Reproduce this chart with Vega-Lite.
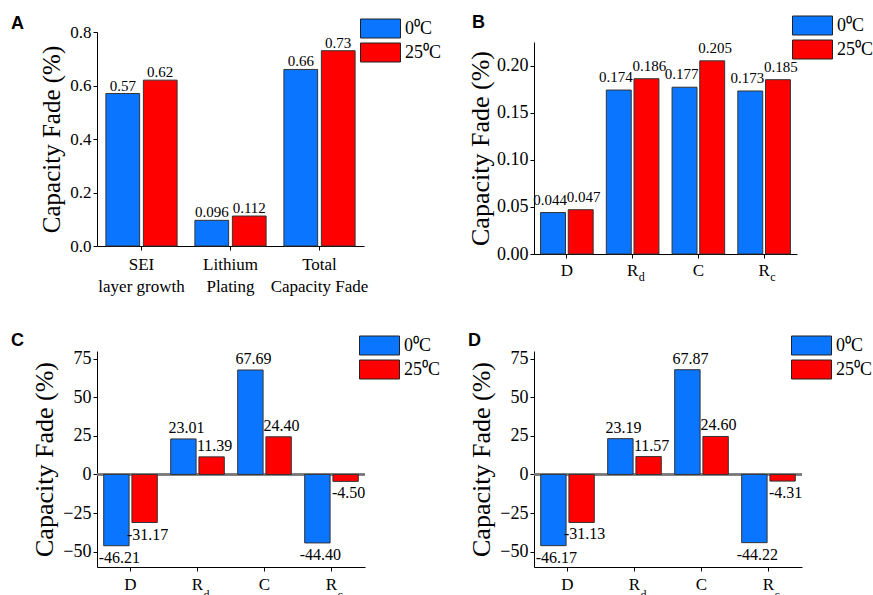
{
  "$schema": "https://vega.github.io/schema/vega-lite/v6.json",
  "padding": {"left": 11, "top": 14, "right": 0, "bottom": 0},
  "background": "white",
  "datasets": {
    "a": [
      {"cat": "SEI layer growth", "temp": "0⁰C", "v": 0.57, "label": "0.57"},
      {"cat": "SEI layer growth", "temp": "25⁰C", "v": 0.62, "label": "0.62"},
      {"cat": "Lithium Plating", "temp": "0⁰C", "v": 0.096, "label": "0.096"},
      {"cat": "Lithium Plating", "temp": "25⁰C", "v": 0.112, "label": "0.112"},
      {"cat": "Total Capacity Fade", "temp": "0⁰C", "v": 0.66, "label": "0.66"},
      {"cat": "Total Capacity Fade", "temp": "25⁰C", "v": 0.73, "label": "0.73"}
    ],
    "b": [
      {"cat": "D", "temp": "0⁰C", "v": 0.044, "label": "0.044"},
      {"cat": "D", "temp": "25⁰C", "v": 0.047, "label": "0.047"},
      {"cat": "Rd", "sub": "d", "temp": "0⁰C", "v": 0.174, "label": "0.174"},
      {"cat": "Rd", "sub": "d", "temp": "25⁰C", "v": 0.186, "label": "0.186"},
      {"cat": "C", "temp": "0⁰C", "v": 0.177, "label": "0.177"},
      {"cat": "C", "temp": "25⁰C", "v": 0.205, "label": "0.205"},
      {"cat": "Rc", "sub": "c", "temp": "0⁰C", "v": 0.173, "label": "0.173"},
      {"cat": "Rc", "sub": "c", "temp": "25⁰C", "v": 0.185, "label": "0.185"}
    ],
    "c": [
      {"cat": "D", "temp": "0⁰C", "v": -46.21, "label": "-46.21"},
      {"cat": "D", "temp": "25⁰C", "v": -31.17, "label": "-31.17"},
      {"cat": "Rd", "sub": "d", "temp": "0⁰C", "v": 23.01, "label": "23.01"},
      {"cat": "Rd", "sub": "d", "temp": "25⁰C", "v": 11.39, "label": "11.39"},
      {"cat": "C", "temp": "0⁰C", "v": 67.69, "label": "67.69"},
      {"cat": "C", "temp": "25⁰C", "v": 24.40, "label": "24.40"},
      {"cat": "Rc", "sub": "c", "temp": "0⁰C", "v": -44.40, "label": "-44.40"},
      {"cat": "Rc", "sub": "c", "temp": "25⁰C", "v": -4.50, "label": "-4.50"}
    ],
    "d": [
      {"cat": "D", "temp": "0⁰C", "v": -46.17, "label": "-46.17"},
      {"cat": "D", "temp": "25⁰C", "v": -31.13, "label": "-31.13"},
      {"cat": "Rd", "sub": "d", "temp": "0⁰C", "v": 23.19, "label": "23.19"},
      {"cat": "Rd", "sub": "d", "temp": "25⁰C", "v": 11.57, "label": "11.57"},
      {"cat": "C", "temp": "0⁰C", "v": 67.87, "label": "67.87"},
      {"cat": "C", "temp": "25⁰C", "v": 24.60, "label": "24.60"},
      {"cat": "Rc", "sub": "c", "temp": "0⁰C", "v": -44.22, "label": "-44.22"},
      {"cat": "Rc", "sub": "c", "temp": "25⁰C", "v": -4.31, "label": "-4.31"}
    ]
  },
  "columns": 2,
  "bounds": "flush",
  "spacing": {"row": 97, "column": 169},
  "concat": [
    {
      "width": 267,
      "height": 214,
      "title": {"text": "A", "anchor": "start", "frame": "group", "dx": -86, "offset": -15},
      "data": {"name": "a"},
      "encoding": {
        "x": {"field": "cat", "type": "nominal", "sort": null,
          "scale": {"type": "band", "paddingInner": 0.2, "paddingOuter": 0.1},
          "axis": {"title": null, "labelAngle": 0, "labelFontSize": 17, "labelLineHeight": 22, "labelPadding": 6,
            "labelExpr": "datum.value == 'SEI layer growth' ? ['SEI', 'layer growth'] : datum.value == 'Lithium Plating' ? ['Lithium', 'Plating'] : ['Total', 'Capacity Fade']"}},
        "xOffset": {"field": "temp", "type": "nominal", "sort": null, "scale": {"paddingInner": 0.1, "paddingOuter": 0}},
        "y": {"field": "v", "type": "quantitative", "scale": {"domain": [0, 0.8], "nice": false},
          "axis": {"title": "Capacity Fade (%)", "values": [0, 0.2, 0.4, 0.6, 0.8], "format": ".1f", "labelFontSize": 17, "titleFontSize": 25, "titlePadding": 5}}
      },
      "layer": [
        {"mark": {"type": "bar", "stroke": "#333333", "strokeWidth": 1},
          "encoding": {"color": {"field": "temp", "type": "nominal", "sort": null,
            "scale": {"domain": ["0⁰C", "25⁰C"], "range": ["#0A75FF", "#FF0000"]},
            "legend": {"orient": "none", "legendX": 273, "legendY": -14}}}},
        {"mark": {"type": "text", "baseline": "alphabetic", "dy": -3, "fontSize": 15},
          "encoding": {"text": {"field": "label"}}}
      ]
    },
    {
      "width": 263,
      "height": 222,
      "title": {"text": "B", "anchor": "start", "frame": "group", "dx": -62, "offset": -17},
      "data": {"name": "b"},
      "layer": [
        {"mark": {"type": "bar", "stroke": "#333333", "strokeWidth": 1},
          "encoding": {
            "x": {"field": "cat", "type": "nominal", "sort": null,
              "scale": {"type": "band", "domain": ["D", "Rd", "C", "Rc"], "paddingInner": 0.2, "paddingOuter": 0.1},
              "axis": {"title": null, "labelAngle": 0, "labelFontSize": 17, "labelPadding": 4,
                "labelExpr": "datum.value == 'Rd' || datum.value == 'Rc' ? 'R' : datum.value"}},
            "xOffset": {"field": "temp", "type": "nominal", "sort": null, "scale": {"paddingInner": 0.1, "paddingOuter": 0}},
            "y": {"field": "v", "type": "quantitative", "scale": {"domain": [0, 0.225], "nice": false, "range": [222, 10]},
              "axis": {"title": "Capacity Fade (%)", "values": [0, 0.05, 0.1, 0.15, 0.2], "format": ".2f", "labelFontSize": 18, "titleFontSize": 26, "titlePadding": 3}},
            "color": {"field": "temp", "type": "nominal", "sort": null,
              "scale": {"domain": ["0⁰C", "25⁰C"], "range": ["#0A75FF", "#FF0000"]},
              "legend": {"orient": "none", "legendX": 268, "legendY": -17}}}},
        {"transform": [{"filter": "datum.temp == '0⁰C'"}],
          "mark": {"type": "text", "baseline": "alphabetic", "dy": -8, "dx": -3, "fontSize": 15},
          "encoding": {
            "x": {"field": "cat", "type": "nominal", "sort": null, "scale": {"type": "band", "domain": ["D", "Rd", "C", "Rc"], "paddingInner": 0.2, "paddingOuter": 0.1}, "axis": {"title": null}},
            "xOffset": {"field": "temp", "type": "nominal", "sort": null, "scale": {"paddingInner": 0.1, "paddingOuter": 0}},
            "y": {"field": "v", "type": "quantitative", "axis": {"title": "Capacity Fade (%)"}},
            "text": {"field": "label"}}},
        {"transform": [{"filter": "datum.temp == '25⁰C'"}],
          "mark": {"type": "text", "baseline": "alphabetic", "dy": -8, "dx": 3, "fontSize": 15},
          "encoding": {
            "x": {"field": "cat", "type": "nominal", "sort": null, "scale": {"type": "band", "domain": ["D", "Rd", "C", "Rc"], "paddingInner": 0.2, "paddingOuter": 0.1}, "axis": {"title": null}},
            "xOffset": {"field": "temp", "type": "nominal", "sort": null, "scale": {"paddingInner": 0.1, "paddingOuter": 0}},
            "y": {"field": "v", "type": "quantitative", "axis": {"title": "Capacity Fade (%)"}},
            "text": {"field": "label"}}},
        {"transform": [{"filter": "datum.temp == '0⁰C' && datum.sub"}],
          "mark": {"type": "text", "align": "left", "baseline": "alphabetic", "dx": 6, "dy": 27, "fontSize": 12},
          "encoding": {
            "x": {"field": "cat", "type": "nominal", "sort": null, "scale": {"type": "band", "domain": ["D", "Rd", "C", "Rc"], "paddingInner": 0.2, "paddingOuter": 0.1}, "axis": {"title": null}},
            "y": {"datum": 0, "type": "quantitative"},
            "text": {"field": "sub"}}}
      ]
    },
    {
      "width": 268,
      "height": 216,
      "title": {"text": "C", "anchor": "start", "frame": "group", "dx": -86, "offset": -15},
      "data": {"name": "c"},
      "layer": [
        {"mark": {"type": "rule", "color": "#777777", "strokeWidth": 1.5}, "encoding": {"y": {"datum": 0, "type": "quantitative"}}},
        {"mark": {"type": "bar", "stroke": "#333333", "strokeWidth": 1},
          "encoding": {
            "x": {"field": "cat", "type": "nominal", "sort": null,
              "scale": {"type": "band", "domain": ["D", "Rd", "C", "Rc"], "paddingInner": 0.2, "paddingOuter": 0.1},
              "axis": {"title": null, "labelAngle": 0, "labelFontSize": 17, "labelPadding": 5,
                "labelExpr": "datum.value == 'Rd' || datum.value == 'Rc' ? 'R' : datum.value"}},
            "xOffset": {"field": "temp", "type": "nominal", "sort": null, "scale": {"paddingInner": 0.1, "paddingOuter": 0}},
            "y": {"field": "v", "type": "quantitative", "scale": {"domain": [-60, 80], "nice": false},
              "axis": {"title": "Capacity Fade (%)", "values": [-50, -25, 0, 25, 50, 75], "format": "d", "labelFontSize": 18, "titleFontSize": 26, "titlePadding": 5}},
            "color": {"field": "temp", "type": "nominal", "sort": null,
              "scale": {"domain": ["0⁰C", "25⁰C"], "range": ["#0A75FF", "#FF0000"]},
              "legend": {"orient": "none", "legendX": 272, "legendY": -16}}}},
        {"transform": [{"filter": "datum.v >= 0"}],
          "mark": {"type": "text", "baseline": "alphabetic", "dy": -6, "dx": 3, "fontSize": 16},
          "encoding": {
            "x": {"field": "cat", "type": "nominal", "sort": null, "scale": {"type": "band", "domain": ["D", "Rd", "C", "Rc"], "paddingInner": 0.2, "paddingOuter": 0.1}, "axis": {"title": null}},
            "xOffset": {"field": "temp", "type": "nominal", "sort": null, "scale": {"paddingInner": 0.1, "paddingOuter": 0}},
            "y": {"field": "v", "type": "quantitative", "axis": {"title": "Capacity Fade (%)"}},
            "text": {"field": "label"}}},
        {"transform": [{"filter": "datum.v < 0"}],
          "mark": {"type": "text", "baseline": "top", "dy": 4, "dx": 3, "fontSize": 16},
          "encoding": {
            "x": {"field": "cat", "type": "nominal", "sort": null, "scale": {"type": "band", "domain": ["D", "Rd", "C", "Rc"], "paddingInner": 0.2, "paddingOuter": 0.1}, "axis": {"title": null}},
            "xOffset": {"field": "temp", "type": "nominal", "sort": null, "scale": {"paddingInner": 0.1, "paddingOuter": 0}},
            "y": {"field": "v", "type": "quantitative", "axis": {"title": "Capacity Fade (%)"}},
            "text": {"field": "label"}}},
        {"transform": [{"filter": "datum.temp == '0⁰C' && datum.sub"}],
          "mark": {"type": "text", "align": "left", "baseline": "alphabetic", "dx": 6, "dy": 32, "fontSize": 12},
          "encoding": {
            "x": {"field": "cat", "type": "nominal", "sort": null, "scale": {"type": "band", "domain": ["D", "Rd", "C", "Rc"], "paddingInner": 0.2, "paddingOuter": 0.1}, "axis": {"title": null}},
            "y": {"datum": -60, "type": "quantitative"},
            "text": {"field": "sub"}}}
      ]
    },
    {
      "width": 268,
      "height": 216,
      "title": {"text": "D", "anchor": "start", "frame": "group", "dx": -66, "offset": -15},
      "data": {"name": "d"},
      "layer": [
        {"mark": {"type": "rule", "color": "#777777", "strokeWidth": 1.5}, "encoding": {"y": {"datum": 0, "type": "quantitative"}}},
        {"mark": {"type": "bar", "stroke": "#333333", "strokeWidth": 1},
          "encoding": {
            "x": {"field": "cat", "type": "nominal", "sort": null,
              "scale": {"type": "band", "domain": ["D", "Rd", "C", "Rc"], "paddingInner": 0.2, "paddingOuter": 0.1},
              "axis": {"title": null, "labelAngle": 0, "labelFontSize": 17, "labelPadding": 5,
                "labelExpr": "datum.value == 'Rd' || datum.value == 'Rc' ? 'R' : datum.value"}},
            "xOffset": {"field": "temp", "type": "nominal", "sort": null, "scale": {"paddingInner": 0.1, "paddingOuter": 0}},
            "y": {"field": "v", "type": "quantitative", "scale": {"domain": [-60, 80], "nice": false},
              "axis": {"title": "Capacity Fade (%)", "values": [-50, -25, 0, 25, 50, 75], "format": "d", "labelFontSize": 18, "titleFontSize": 26, "titlePadding": 5}},
            "color": {"field": "temp", "type": "nominal", "sort": null,
              "scale": {"domain": ["0⁰C", "25⁰C"], "range": ["#0A75FF", "#FF0000"]},
              "legend": {"orient": "none", "legendX": 267, "legendY": -16}}}},
        {"transform": [{"filter": "datum.v >= 0"}],
          "mark": {"type": "text", "baseline": "alphabetic", "dy": -6, "dx": 3, "fontSize": 16},
          "encoding": {
            "x": {"field": "cat", "type": "nominal", "sort": null, "scale": {"type": "band", "domain": ["D", "Rd", "C", "Rc"], "paddingInner": 0.2, "paddingOuter": 0.1}, "axis": {"title": null}},
            "xOffset": {"field": "temp", "type": "nominal", "sort": null, "scale": {"paddingInner": 0.1, "paddingOuter": 0}},
            "y": {"field": "v", "type": "quantitative", "axis": {"title": "Capacity Fade (%)"}},
            "text": {"field": "label"}}},
        {"transform": [{"filter": "datum.v < 0"}],
          "mark": {"type": "text", "baseline": "top", "dy": 4, "dx": 3, "fontSize": 16},
          "encoding": {
            "x": {"field": "cat", "type": "nominal", "sort": null, "scale": {"type": "band", "domain": ["D", "Rd", "C", "Rc"], "paddingInner": 0.2, "paddingOuter": 0.1}, "axis": {"title": null}},
            "xOffset": {"field": "temp", "type": "nominal", "sort": null, "scale": {"paddingInner": 0.1, "paddingOuter": 0}},
            "y": {"field": "v", "type": "quantitative", "axis": {"title": "Capacity Fade (%)"}},
            "text": {"field": "label"}}},
        {"transform": [{"filter": "datum.temp == '0⁰C' && datum.sub"}],
          "mark": {"type": "text", "align": "left", "baseline": "alphabetic", "dx": 6, "dy": 32, "fontSize": 12},
          "encoding": {
            "x": {"field": "cat", "type": "nominal", "sort": null, "scale": {"type": "band", "domain": ["D", "Rd", "C", "Rc"], "paddingInner": 0.2, "paddingOuter": 0.1}, "axis": {"title": null}},
            "y": {"datum": -60, "type": "quantitative"},
            "text": {"field": "sub"}}}
      ]
    }
  ],
  "resolve": {"scale": {"color": "independent", "xOffset": "independent"}, "legend": {"color": "independent"}},
  "config": {
    "font": "Liberation Serif",
    "view": {"stroke": null},
    "axis": {"grid": false, "domainColor": "#000000", "tickColor": "#000000", "labelColor": "#000000", "titleColor": "#000000",
      "labelFont": "Liberation Serif", "titleFont": "Liberation Serif", "titleFontWeight": "normal", "tickSize": 4, "domainWidth": 1, "tickWidth": 1},
    "legend": {"title": null, "symbolType": "M-2,-0.95H2V0.95H-2Z", "symbolSize": 400, "symbolStrokeColor": "#222222", "symbolStrokeWidth": 1,
      "symbolOpacity": 1, "labelFont": "Liberation Serif", "labelFontSize": 18, "labelColor": "#000000", "labelOffset": 14, "rowPadding": 1, "padding": 0},
    "title": {"font": "Liberation Sans", "fontSize": 18, "fontWeight": "bold", "color": "#000000", "baseline": "alphabetic"},
    "text": {"font": "Liberation Serif", "color": "#000000"}
  }
}
